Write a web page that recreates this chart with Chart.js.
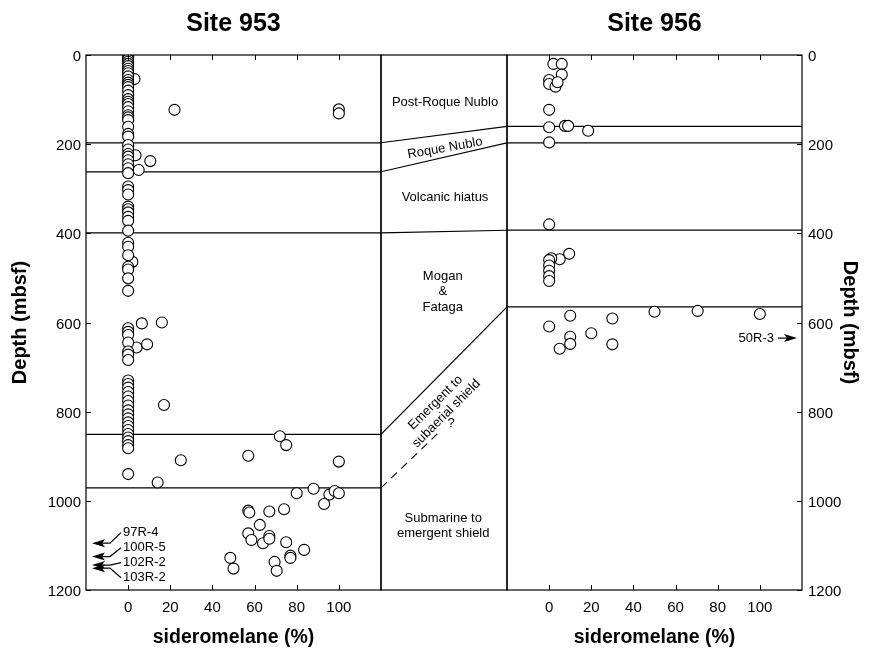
<!DOCTYPE html>
<html>
<head>
<meta charset="utf-8">
<title>Sideromelane vs depth, Sites 953 and 956</title>
<script src="https://cdn.jsdelivr.net/npm/chart.js@4.4.1/dist/chart.umd.min.js"></script>
<style>
  body { margin: 0; background: #fff; }
  #wrap { position: relative; width: 879px; height: 649px; }
  #wrap canvas { position: absolute; left: 0; top: 0; }
</style>
</head>
<body>
<div id="wrap">
  <canvas id="left" width="879" height="649"></canvas>
  <canvas id="middle" width="879" height="649"></canvas>
  <canvas id="right" width="879" height="649"></canvas>
</div>
<script>
// Site 953 - samples with 0 % sideromelane (the dense column)
const site953ZeroDepth = [3, 6, 10, 15, 20, 25, 31, 36, 41, 48, 56, 62, 67, 72, 80, 90, 99, 105, 110, 117,
  126, 135, 140, 146, 161, 177, 183, 202, 212, 222, 228, 236, 245, 254, 265, 295, 303, 313, 340, 346,
  353, 363, 372, 394, 421, 430, 449, 475, 481, 501, 529, 613, 621, 628, 645, 665, 672, 684, 730, 738,
  746, 756, 766, 776, 786, 797, 806, 815, 824, 832, 841, 850, 858, 866, 875, 882, 940];
// Site 953 - other samples
const site953Sider = [3, 22, 100, 100, 3.5, 10.5, 5, 2, 6.5, 16, 4, 9, 17, 72, 75, 57, 25, 100, 14, 80,
  88, 95.5, 98, 100, 93, 57, 57.5, 67, 74, 62.5, 57, 58.5, 64, 67, 67, 75, 83.5, 77, 77, 48.5, 50, 69.5, 70.5];
const site953Depth = [54, 123, 122, 131, 225, 238, 258, 464, 602, 600, 656, 649, 785, 855, 875, 899, 909, 912, 959, 983,
  973, 986, 978, 983, 1007, 1022, 1026, 1024, 1019, 1054, 1073, 1088, 1095, 1079, 1085, 1093, 1110, 1123, 1128, 1128, 1152, 1137, 1157];

// Site 956
const site956Sider = [2, 6, 6, 0, 0, 3, 4, 0, 0, 7.5, 9, 18.5, 0, 0, 9.5, 5, 1, 0, 0, 0, 0, 0,
  50, 70.5, 100, 10, 30, 0, 20, 10, 10, 30, 5];
const site956Depth = [20, 20, 44, 56, 65, 71, 61, 123, 162, 159, 159, 170, 196, 380, 446, 458, 456, 460, 472, 484, 496, 507,
  576, 574, 581, 585, 591, 609, 624, 632, 648, 649, 659];

// unit boundaries (mbsf)
const site953Tops = [197, 262, 399, 851, 971];
const site956Tops = [160, 197, 393, 565];
const uncertainTop = [971, 841]; // dashed, ends in the middle column

// samples off the plot
const site953Samples = ['97R-4', '100R-5', '102R-2', '103R-2'];
const site953SampleDepth = [1095, 1125, 1144, 1151];
const site956Samples = ['50R-3'];
const site956SampleDepth = [635];

// stratigraphic units in the middle column
const unitNames = ['Post-Roque Nublo', 'Roque Nublo', 'Volcanic hiatus', ['Mogan', '&', 'Fataga'],
  ['Emergent to', 'subaerial shield'], '?', ['Submarine to', 'emergent shield']];

const FONT = '"Liberation Sans", Arial, Helvetica, sans-serif';
Chart.defaults.font.family = FONT;
Chart.defaults.color = '#000';

// where the unit names sit: [x in column 0..1, depth, angle deg]
const unitLayout = [[0.508, 106, 0], [0.508, 209, -10], [0.508, 319, 0], [0.49, 531, 0],
  [0.476, 792, -45], [0.556, 826, 0], [0.494, 1057, 0]];

const framePlugin = {
  id: 'frame',
  afterDatasetsDraw(chart, args, opts) {
    const ctx = chart.ctx, a = chart.chartArea;
    ctx.save();
    ctx.strokeStyle = '#000';
    ctx.lineWidth = 1.2;
    ctx.strokeRect(a.left, a.top, a.right - a.left, a.bottom - a.top);
    if (opts.side) {
      const xs = chart.scales.x, ys = chart.scales.y;
      ctx.lineWidth = 1;
      ctx.beginPath();
      xs.ticks.forEach(t => {
        if (t.value < 0 || t.value > 100) return;
        const px = Math.round(xs.getPixelForValue(t.value)) + 0.5;
        const len = t.value % 20 === 0 ? 5 : 3;
        ctx.moveTo(px, a.top); ctx.lineTo(px, a.top + len);
        ctx.moveTo(px, a.bottom); ctx.lineTo(px, a.bottom - len);
      });
      ys.ticks.forEach(t => {
        const py = Math.round(ys.getPixelForValue(t.value)) + 0.5;
        const len = t.value % 200 === 0 ? 5 : 3;
        if (opts.side === 'left') { ctx.moveTo(a.left, py); ctx.lineTo(a.left + len, py); }
        else { ctx.moveTo(a.right, py); ctx.lineTo(a.right - len, py); }
      });
      ctx.stroke();
    }
    ctx.restore();
  }
};

function arrowHead(ctx, tipX, y, dir) {
  // dir -1 points left, +1 points right
  ctx.beginPath();
  ctx.moveTo(tipX, y);
  ctx.lineTo(tipX - dir * 13, y - 4);
  ctx.lineTo(tipX - dir * 10, y);
  ctx.lineTo(tipX - dir * 13, y + 4);
  ctx.closePath();
  ctx.fill();
}

const samplePlugin = {
  id: 'samples',
  afterDatasetsDraw(chart, args, opts) {
    if (!opts.names) return;
    const ctx = chart.ctx, a = chart.chartArea, ys = chart.scales.y;
    ctx.save();
    ctx.font = '13px ' + FONT;
    ctx.fillStyle = '#000';
    ctx.strokeStyle = '#000';
    ctx.lineWidth = 1.2;
    ctx.textBaseline = 'middle';
    const y0 = ys.getPixelForValue(opts.depths[0]);
    opts.names.forEach((name, i) => {
      const y = ys.getPixelForValue(opts.depths[i]);
      if (opts.side === 'left') {
        const tip = a.left + 6, tail = a.left + 24;
        arrowHead(ctx, tip, y, -1);
        ctx.beginPath();
        ctx.moveTo(tip + 10, y); ctx.lineTo(tail, y);
        const ly = y0 - 10.5 + 15 * i;
        ctx.lineTo(tail + 11, ly);
        ctx.stroke();
        ctx.textAlign = 'left';
        ctx.fillText(name, tail + 13, ly);
      } else {
        const tip = a.right - 5, tail = a.right - 24;
        arrowHead(ctx, tip, y, 1);
        ctx.beginPath();
        ctx.moveTo(tail, y); ctx.lineTo(tip - 10, y);
        ctx.stroke();
        ctx.textAlign = 'right';
        ctx.fillText(name, tail - 4, y);
      }
    });
    ctx.restore();
  }
};

const unitPlugin = {
  id: 'units',
  afterDatasetsDraw(chart) {
    const ctx = chart.ctx, xs = chart.scales.x, ys = chart.scales.y;
    ctx.save();
    ctx.font = '13px ' + FONT;
    ctx.fillStyle = '#000';
    ctx.textAlign = 'center';
    ctx.textBaseline = 'middle';
    unitNames.forEach((name, i) => {
      const [fx, depth, ang] = unitLayout[i];
      const lines = Array.isArray(name) ? name : [name];
      ctx.save();
      ctx.translate(xs.getPixelForValue(fx), ys.getPixelForValue(depth));
      ctx.rotate(ang * Math.PI / 180);
      lines.forEach((ln, k) => ctx.fillText(ln, 0, (k - (lines.length - 1) / 2) * 15.3));
      ctx.restore();
    });
    ctx.restore();
  }
};

function depthAxis(position) {
  return {
    type: 'linear', position, min: 0, max: 1200, reverse: true,
    afterFit: s => { s.width = position === 'left' ? 86 : 77; },
    grid: { display: false, drawTicks: false },
    border: { display: false },
    ticks: {
      stepSize: 100, autoSkip: false, padding: position === 'left' ? 5 : 6, labelOffset: 2,
      font: { size: 15 },
      callback: v => v % 200 === 0 ? String(v) : null
    },
    title: {
      display: true, text: 'Depth (mbsf)',
      font: { size: 20, weight: 'bold' },
      padding: { top: position === 'left' ? 8 : 17 }
    }
  };
}

function sideroAxis() {
  return {
    type: 'linear', min: -20, max: 120,
    afterFit: s => { s.height = 59; },
    grid: { display: false, drawTicks: false },
    border: { display: false },
    ticks: {
      stepSize: 10, autoSkip: false, maxRotation: 0, padding: 9,
      font: { size: 15 },
      callback: v => (v >= 0 && v <= 100 && v % 20 === 0) ? String(v) : null
    },
    title: {
      display: true, text: 'sideromelane (%)',
      font: { size: 19.5, weight: 'bold' },
      padding: { top: 0, bottom: 0 }
    }
  };
}

function pointSet(xs, ys) {
  return {
    data: xs.map((x, i) => ({ x, y: ys[i] })),
    showLine: false, pointRadius: 5.5, pointHoverRadius: 5.5,
    pointBackgroundColor: '#fff', pointBorderColor: '#000', pointBorderWidth: 1.1
  };
}

function levelSet(depth) {
  return {
    data: [{ x: -20, y: depth }, { x: 120, y: depth }],
    showLine: true, pointRadius: 0, borderColor: '#000', borderWidth: 1.2
  };
}

function siteTitle(text) {
  return {
    display: true, text, fullSize: false, color: '#000',
    font: { size: 25, weight: 'bold', lineHeight: 1.2 },
    padding: { top: 9, bottom: 16 }
  };
}

const common = {
  responsive: false, animation: false, events: []
};

// Site 953
new Chart(document.getElementById('left'), {
  type: 'scatter',
  data: {
    datasets: [
      pointSet(site953ZeroDepth.map(() => 0), site953ZeroDepth),
      pointSet(site953Sider, site953Depth),
      ...site953Tops.map(levelSet)
    ]
  },
  options: {
    ...common,
    layout: { padding: { left: 0, right: 498, top: 0, bottom: 0 } },
    scales: { x: sideroAxis(), y: depthAxis('left') },
    plugins: {
      legend: { display: false }, tooltip: { enabled: false },
      title: siteTitle('Site 953'),
      frame: { side: 'left' },
      samples: { names: site953Samples, depths: site953SampleDepth, side: 'left' }
    }
  },
  plugins: [framePlugin, samplePlugin]
});

// correlation column
const linkSets = site956Tops.map((d, i) => ({
  data: [{ x: 0, y: site953Tops[i] }, { x: 1, y: d }],
  showLine: true, pointRadius: 0, borderColor: '#000', borderWidth: 1.1
}));
linkSets.push({
  data: [{ x: 0, y: uncertainTop[0] }, { x: 0.48, y: uncertainTop[1] }],
  showLine: true, pointRadius: 0, borderColor: '#000', borderWidth: 1.1, borderDash: [8, 6]
});

new Chart(document.getElementById('middle'), {
  type: 'scatter',
  data: { datasets: linkSets },
  options: {
    ...common,
    layout: { padding: { left: 381, right: 372, top: 55, bottom: 59 } },
    scales: {
      x: { type: 'linear', display: false, min: 0, max: 1 },
      y: { type: 'linear', display: false, min: 0, max: 1200, reverse: true }
    },
    plugins: { legend: { display: false }, tooltip: { enabled: false }, frame: {} }
  },
  plugins: [framePlugin, unitPlugin]
});

// Site 956
new Chart(document.getElementById('right'), {
  type: 'scatter',
  data: {
    datasets: [
      pointSet(site956Sider, site956Depth),
      ...site956Tops.map(levelSet)
    ]
  },
  options: {
    ...common,
    layout: { padding: { left: 507, right: 0, top: 0, bottom: 0 } },
    scales: { x: sideroAxis(), y: depthAxis('right') },
    plugins: {
      legend: { display: false }, tooltip: { enabled: false },
      title: siteTitle('Site 956'),
      frame: { side: 'right' },
      samples: { names: site956Samples, depths: site956SampleDepth, side: 'right' }
    }
  },
  plugins: [framePlugin, samplePlugin]
});
</script>
</body>
</html>
